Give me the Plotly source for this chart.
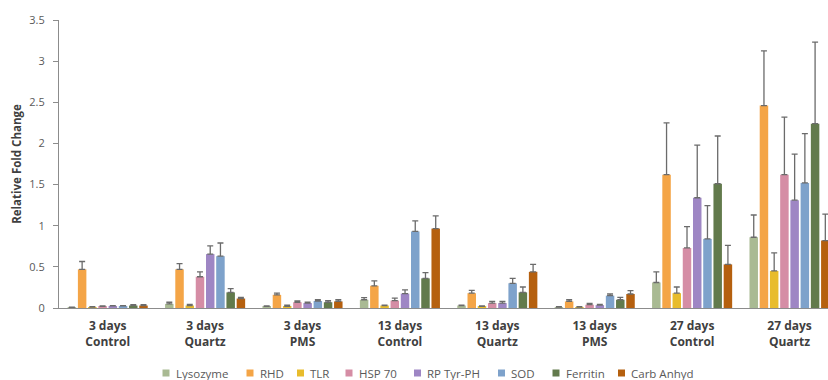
import plotly.graph_objects as go

categories = ["3 days<br>Control", "3 days<br>Quartz", "3 days<br>PMS",
              "13 days<br>Control", "13 days<br>Quartz", "13 days<br>PMS",
              "27 days<br>Control", "27 days<br>Quartz"]

series_names = ["Lysozyme", "RHD", "TLR", "HSP 70", "RP Tyr-PH", "SOD", "Ferritin", "Carb Anhyd"]

lysozyme = [0.005, 0.05, 0.02, 0.10, 0.03, 0.01, 0.31, 0.86]
rhd = [0.47, 0.47, 0.16, 0.27, 0.18, 0.08, 1.62, 2.46]
tlr = [0.01, 0.03, 0.02, 0.03, 0.02, 0.01, 0.18, 0.45]
hsp70 = [0.02, 0.38, 0.07, 0.09, 0.06, 0.04, 0.73, 1.62]
rp_tyr = [0.025, 0.655, 0.06, 0.175, 0.06, 0.035, 1.34, 1.31]
sod = [0.025, 0.63, 0.085, 0.93, 0.30, 0.15, 0.84, 1.52]
ferritin = [0.03, 0.19, 0.07, 0.36, 0.19, 0.10, 1.51, 2.24]
carb_anhyd = [0.03, 0.115, 0.08, 0.965, 0.44, 0.17, 0.53, 0.82]

lysozyme_err = [0.005, 0.02, 0.005, 0.025, 0.005, 0.005, 0.13, 0.27]
rhd_err = [0.095, 0.07, 0.02, 0.06, 0.035, 0.02, 0.63, 0.665]
tlr_err = [0.005, 0.015, 0.015, 0.005, 0.005, 0.005, 0.075, 0.22]
hsp70_err = [0.005, 0.06, 0.015, 0.03, 0.02, 0.015, 0.26, 0.70]
rp_tyr_err = [0.005, 0.10, 0.01, 0.045, 0.02, 0.01, 0.64, 0.56]
sod_err = [0.005, 0.16, 0.015, 0.13, 0.06, 0.02, 0.405, 0.60]
ferritin_err = [0.01, 0.045, 0.02, 0.07, 0.065, 0.03, 0.58, 0.99]
carb_anhyd_err = [0.01, 0.015, 0.02, 0.155, 0.09, 0.04, 0.23, 0.32]

values = [lysozyme, rhd, tlr, hsp70, rp_tyr, sod, ferritin, carb_anhyd]
errors = [lysozyme_err, rhd_err, tlr_err, hsp70_err, rp_tyr_err, sod_err, ferritin_err, carb_anhyd_err]
colors = ["#A9BA93", "#F4A547", "#E8BC2C", "#D58DA5", "#9E86C4", "#7EA2CB", "#627A4C", "#B5600F"]

# figure geometry (pixels)
W, H = 828, 380
ML, MR, MT, MB = 59, 0, 20, 72
PW, PH = W - ML - MR, H - MT - MB

fig = go.Figure()
for name, v, e, c in zip(series_names, values, errors, colors):
    fig.add_trace(go.Bar(
        x=categories, y=v, name=name, showlegend=False,
        marker=dict(color=c, line=dict(width=0)),
        error_y=dict(type="data", array=e, arrayminus=[0] * len(e), symmetric=False,
                     color="#6b6b6b", thickness=1.3, width=3),
    ))

# legend drawn as small squares + text below the plot
legend_marker_px = [162.5, 246.5, 297, 345.5, 414, 498, 552.5, 618]
legend_y_px = 373
for name, c, mx in zip(series_names, colors, legend_marker_px):
    x0 = (mx - ML) / PW
    x1 = (mx + 7 - ML) / PW
    yc = (H - MB - legend_y_px) / PH
    half = 3.5 / PH
    fig.add_shape(type="rect", xref="paper", yref="paper", x0=x0, x1=x1,
                  y0=yc - half, y1=yc + half, fillcolor=c, line=dict(width=0))
    fig.add_annotation(xref="paper", yref="paper", x=(mx + 11 - ML) / PW, y=yc,
                       xanchor="left", yanchor="middle", text=name, showarrow=False,
                       font=dict(size=11.5, color="#595959"))

fig.update_layout(
    width=W, height=H,
    margin=dict(l=ML, r=MR, t=MT, b=MB),
    paper_bgcolor="white", plot_bgcolor="white",
    barmode="group", bargap=0.16, bargroupgap=0.17,
    font=dict(family="Open Sans, Liberation Sans, Arial", color="#595959"),
    showlegend=False,
    xaxis=dict(range=[-0.5, 7.395], showline=True, linecolor="#8c8c8c", linewidth=1,
               ticks="", showgrid=False, zeroline=False, automargin=False,
               ticklabelstandoff=7,
               tickfont=dict(size=12, color="#404040"),
               tickprefix="<b>", ticksuffix="</b>"),
    yaxis=dict(range=[0, 3.5], dtick=0.5, showline=True, linecolor="#8c8c8c", linewidth=1,
               ticks="outside", ticklen=5, tickcolor="#8c8c8c", showgrid=False, zeroline=False,
               automargin=False, ticklabelstandoff=6,
               tickfont=dict(size=11, color="#595959"),
               title=dict(text="<b>Relative Fold Change</b>", font=dict(size=11.5, color="#404040"),
                          standoff=5)),
)

fig.write_html("out.html", config={"displayModeBar": False},
               post_script="document.body.style.margin='0px';document.body.style.overflow='hidden';")
